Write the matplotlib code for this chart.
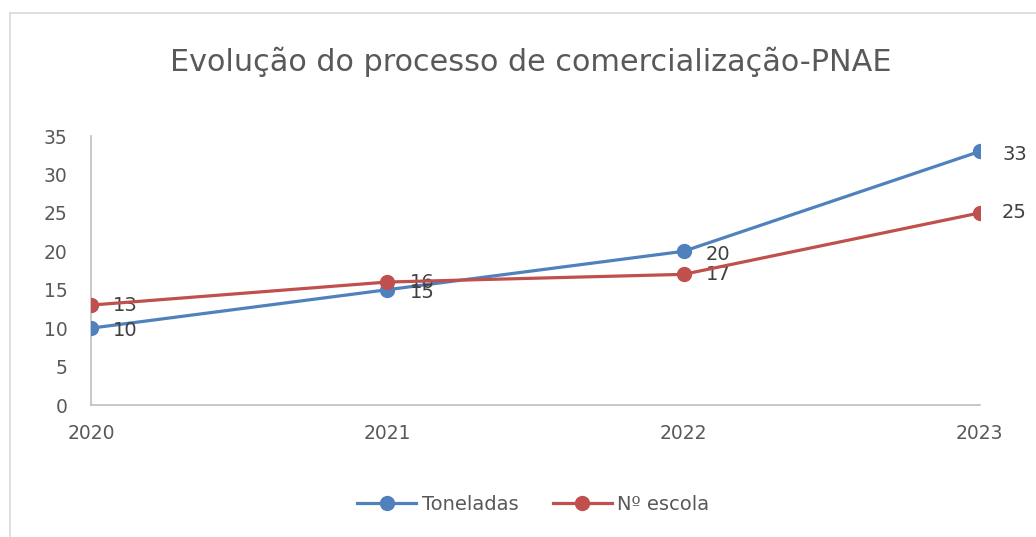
import matplotlib.pyplot as plt
from matplotlib.lines import Line2D

anos = ['2020', '2021', '2022', '2023']
toneladas = [10, 15, 20, 33]
escolas = [13, 16, 17, 25]

azul = '#4F81BD'
vermelho = '#C0504D'
cinza_txt = '#595959'

fig = plt.figure(figsize=(10.36, 5.37), dpi=100)
ax = fig.add_axes([0.0878, 0.2458, 0.8580, 0.5009])

x = list(range(len(anos)))
ax.plot(x, toneladas, color=azul, lw=2.3, marker='o', ms=10, label='Toneladas', zorder=3)
ax.plot(x, escolas, color=vermelho, lw=2.3, marker='o', ms=10, label='Nº escola', zorder=4)

# rótulos de dados à direita dos pontos
for xi, v in zip(x, toneladas):
    ax.annotate(str(v), (xi, v), xytext=(16, -2), textcoords='offset points',
                va='center', ha='left', fontsize=14, color='#404040')
for xi, v in zip(x, escolas):
    ax.annotate(str(v), (xi, v), xytext=(16, 0), textcoords='offset points',
                va='center', ha='left', fontsize=14, color='#404040')

ax.set_xlim(0, 3)
ax.set_ylim(0, 35)
ax.set_yticks(range(0, 36, 5))
ax.set_xticks(x)
ax.set_xticklabels(anos)
ax.tick_params(length=0, labelsize=13.5, colors=cinza_txt)
ax.tick_params(axis='x', pad=14)
ax.tick_params(axis='y', pad=17)
for s in ['top', 'right']:
    ax.spines[s].set_visible(False)
for s in ['left', 'bottom']:
    ax.spines[s].set_color('#bfbfbf')
    ax.spines[s].set_linewidth(1.2)

fig.text(0.512, 0.885, 'Evolução do processo de comercialização-PNAE',
         ha='center', va='center', fontsize=21.8, color=cinza_txt)

fig.legend(loc='center', bbox_to_anchor=(0.515, 0.06), ncol=2, frameon=False,
           fontsize=14, labelcolor=cinza_txt, handlelength=3, columnspacing=1.8,
           handletextpad=0.3)

fig.add_artist(Line2D([10 / 1036, 1], [1 - 13 / 537, 1 - 13 / 537], color='#d9d9d9', lw=1.2))
fig.add_artist(Line2D([10 / 1036, 10 / 1036], [0, 1 - 13 / 537], color='#d9d9d9', lw=1.2))

fig.savefig('out.png', dpi=100)
